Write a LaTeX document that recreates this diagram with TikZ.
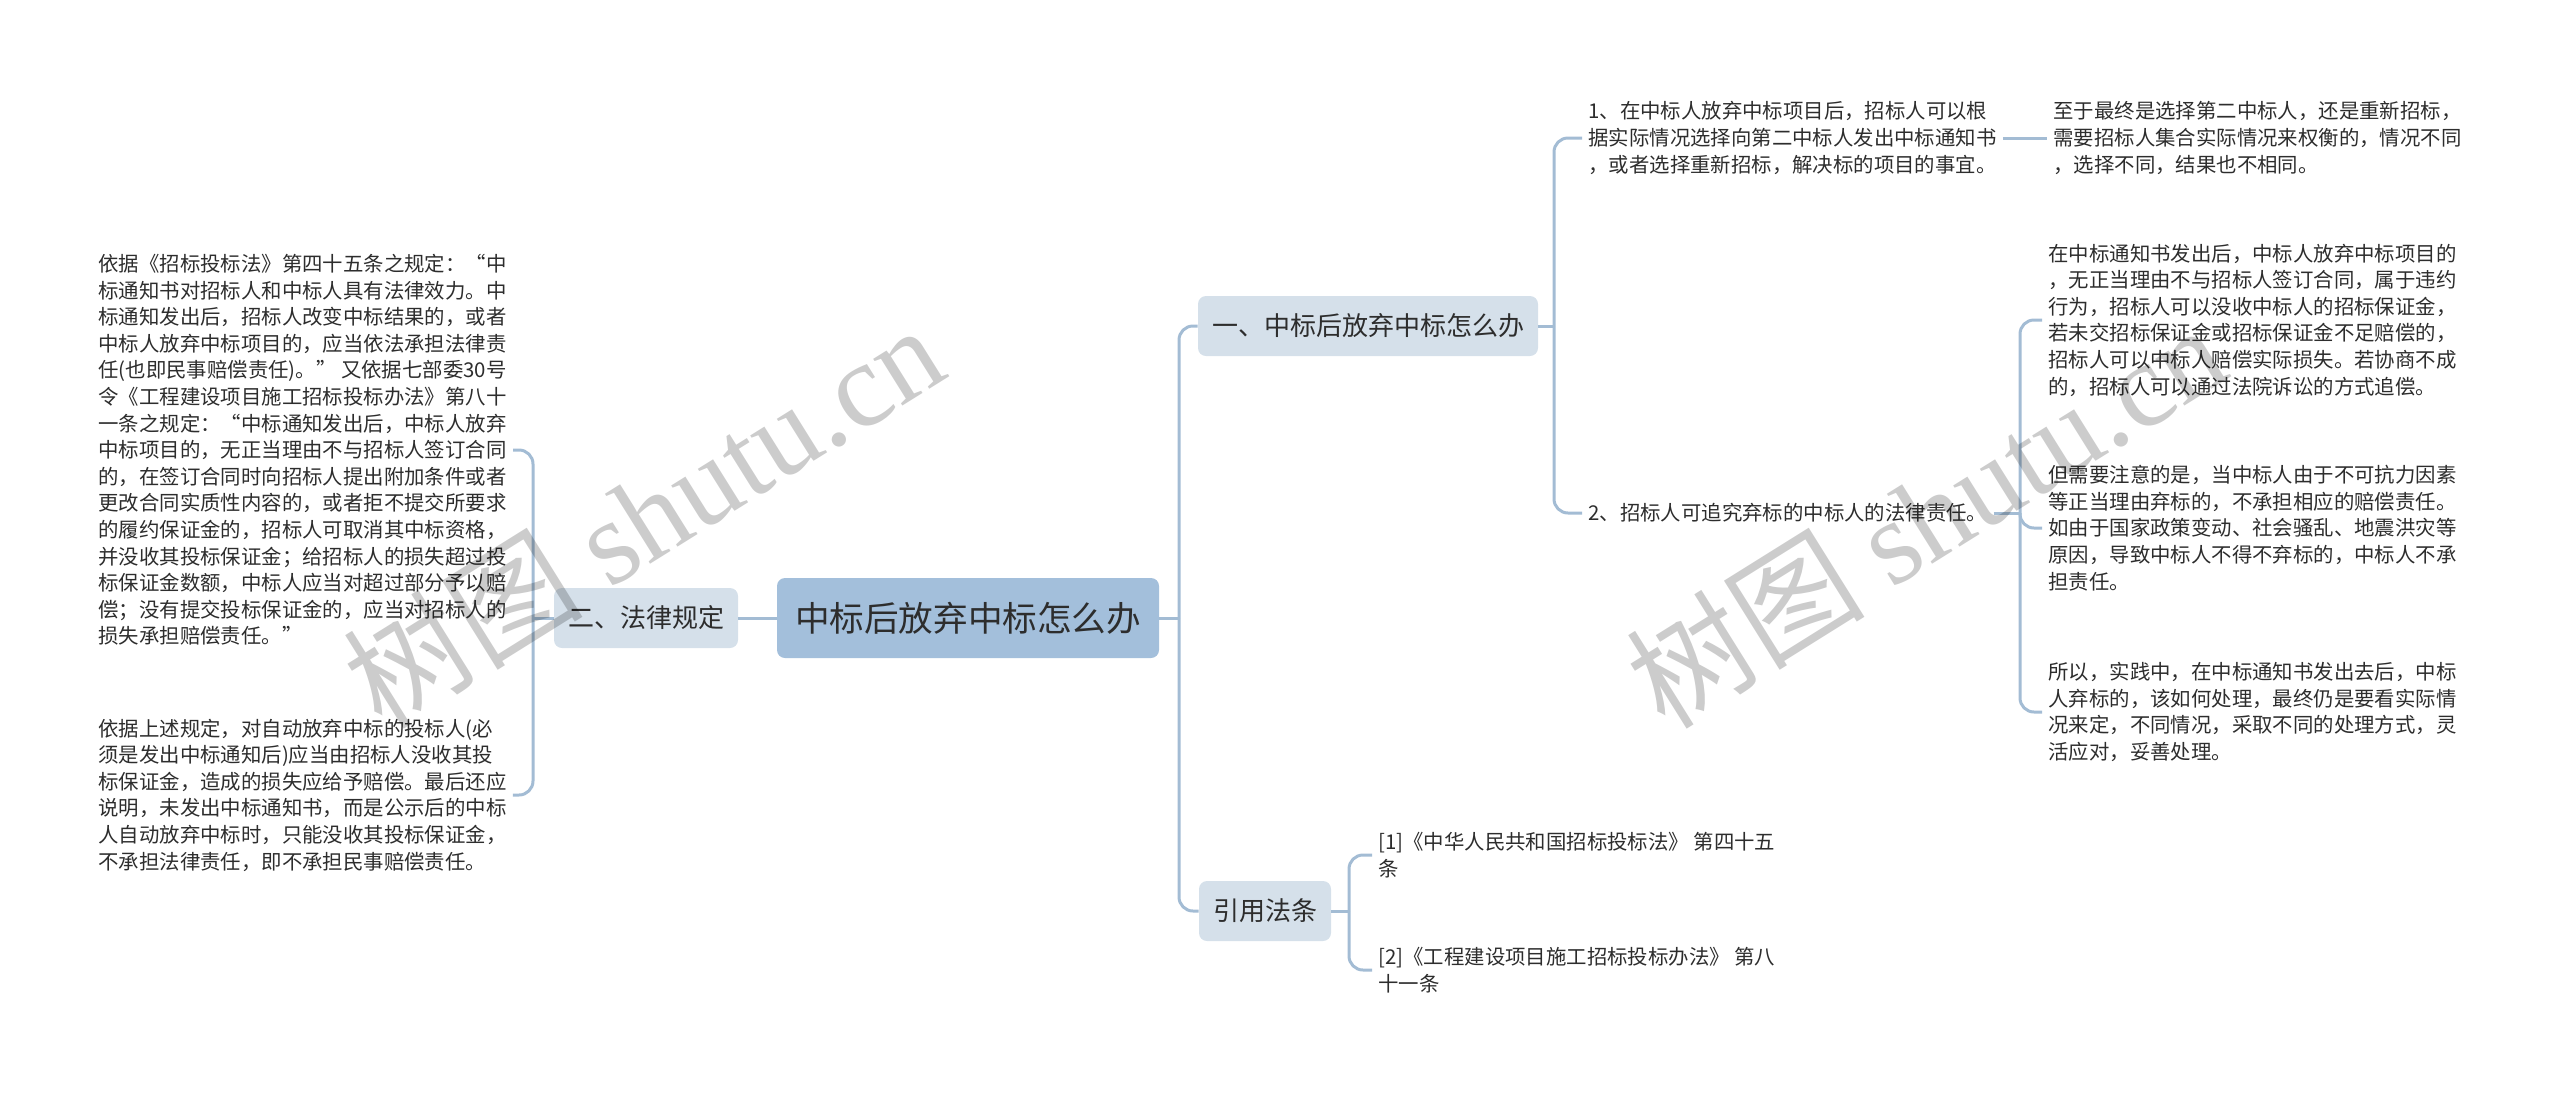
\documentclass[tikz,border=0pt]{standalone}
\usepackage{fontspec}
\setmainfont{Noto Sans CJK SC}
\newfontfamily\wmserif{Liberation Serif}

\definecolor{rootblue}{RGB}{163,191,219}
\definecolor{topicblue}{RGB}{213,224,234}
\definecolor{linkblue}{RGB}{163,188,212}
\definecolor{textgray}{RGB}{45,45,45}

\tikzset{
	link/.style={draw=linkblue, line width=1.5pt},
	elbow/.style={link, rounded corners=7pt},
	rootbox/.style={fill=rootblue, text=textgray, rounded corners=4pt, inner xsep=9pt, minimum height=40pt, font=\fontsize{17.3}{20}\selectfont},
	topicbox/.style={fill=topicblue, text=textgray, rounded corners=4pt, inner xsep=7pt, minimum height=30pt, font=\fontsize{13}{15}\selectfont},
	leaftext/.style={anchor=west, align=left, inner sep=3pt, text=textgray, font=\fontsize{10.2}{13.3}\selectfont},
	watermark/.style={rotate=32, text=black, opacity=0.2, font=\fontsize{60}{60}\selectfont},
}

\begin{document}
\begin{tikzpicture}[x=0.5pt, y=-0.5pt]
	\useasboundingbox (0,0) rectangle (2560,1093);

	% centre and first level
	\node[rootbox]  (root) at (968,618)  {中标后放弃中标怎么办};
	\node[topicbox] (law)  at (646,618)  {二、法律规定};
	\node[topicbox] (what) at (1368,326) {一、中标后放弃中标怎么办};
	\node[topicbox] (refs) at (1265,911) {引用法条};

	\coordinate (busR)    at (1179,618);
	\coordinate (busL)    at (533,618);
	\coordinate (busWhat) at (1554,326);
	\coordinate (busDuty) at (2020,513);
	\coordinate (busRefs) at (1349,911);

	% left: 法律规定
	\node[leaftext] (lawA) at (92,450) {依据《招标投标法》第四十五条之规定：“中\\
		标通知书对招标人和中标人具有法律效力。中\\
		标通知发出后，招标人改变中标结果的，或者\\
		中标人放弃中标项目的，应当依法承担法律责\\
		任(也即民事赔偿责任)。” 又依据七部委30号\\
		令《工程建设项目施工招标投标办法》第八十\\
		一条之规定：“中标通知发出后，中标人放弃\\
		中标项目的，无正当理由不与招标人签订合同\\
		的，在签订合同时向招标人提出附加条件或者\\
		更改合同实质性内容的，或者拒不提交所要求\\
		的履约保证金的，招标人可取消其中标资格，\\
		并没收其投标保证金；给招标人的损失超过投\\
		标保证金数额，中标人应当对超过部分予以赔\\
		偿；没有提交投标保证金的，应当对招标人的\\
		损失承担赔偿责任。”};
	\node[leaftext] (lawB) at (92,795) {依据上述规定，对自动放弃中标的投标人(必\\
		须是发出中标通知后)应当由招标人没收其投\\
		标保证金，造成的损失应给予赔偿。最后还应\\
		说明，未发出中标通知书，而是公示后的中标\\
		人自动放弃中标时，只能没收其投标保证金，\\
		不承担法律责任，即不承担民事赔偿责任。};

	% right: 怎么办
	\node[leaftext] (stepA) at (1582,138) {1、在中标人放弃中标项目后，招标人可以根\\
		据实际情况选择向第二中标人发出中标通知书\\
		，或者选择重新招标，解决标的项目的事宜。};
	\node[leaftext] (stepAnote) at (2047,138) {至于最终是选择第二中标人，还是重新招标，\\
		需要招标人集合实际情况来权衡的，情况不同\\
		，选择不同，结果也不相同。};
	\node[leaftext] (stepB) at (1582,513) {2、招标人可追究弃标的中标人的法律责任。};

	\node[leaftext] (dutyA) at (2042,320) {在中标通知书发出后，中标人放弃中标项目的\\
		，无正当理由不与招标人签订合同，属于违约\\
		行为，招标人可以没收中标人的招标保证金，\\
		若未交招标保证金或招标保证金不足赔偿的，\\
		招标人可以中标人赔偿实际损失。若协商不成\\
		的，招标人可以通过法院诉讼的方式追偿。};
	\node[leaftext] (dutyB) at (2042,528) {但需要注意的是，当中标人由于不可抗力因素\\
		等正当理由弃标的，不承担相应的赔偿责任。\\
		如由于国家政策变动、社会骚乱、地震洪灾等\\
		原因，导致中标人不得不弃标的，中标人不承\\
		担责任。};
	\node[leaftext] (dutyC) at (2042,712) {所以，实践中，在中标通知书发出去后，中标\\
		人弃标的，该如何处理，最终仍是要看实际情\\
		况来定，不同情况，采取不同的处理方式，灵\\
		活应对，妥善处理。};

	% bottom: 引用法条
	\node[leaftext] (refA) at (1372,855) {[1]《中华人民共和国招标投标法》 第四十五\\条};
	\node[leaftext] (refB) at (1372,970) {[2]《工程建设项目施工招标投标办法》 第八\\十一条};

	% connectors
	\draw[link] (root.east) -- (busR);
	\draw[elbow] (busR) |- (what.west);
	\draw[elbow] (busR) |- (refs.west);
	\draw[link] (root.west) -- (law.east);

	\draw[link] (law.west) -- (busL);
	\draw[elbow] (busL) |- (lawA.east);
	\draw[elbow] (busL) |- (lawB.east);

	\draw[link] (what.east) -- (busWhat);
	\draw[elbow] (busWhat) |- (stepA.west);
	\draw[elbow] (busWhat) |- (stepB.west);
	\draw[link] (stepA.east) -- (stepAnote.west);

	\draw[link] (stepB.east) -- (busDuty);
	\draw[elbow] (busDuty) |- (dutyA.west);
	\draw[elbow] (busDuty) |- (dutyB.west);
	\draw[elbow] (busDuty) |- (dutyC.west);

	\draw[link] (refs.east) -- (busRefs);
	\draw[elbow] (busRefs) |- (refA.west);
	\draw[elbow] (busRefs) |- (refB.west);

	% watermarks
	\node[watermark] (wmA) at (643,515)  {树图 {\wmserif shutu.cn}};
	\node[watermark] (wmB) at (1925,515) {树图 {\wmserif shutu.cn}};
\end{tikzpicture}
\end{document}
